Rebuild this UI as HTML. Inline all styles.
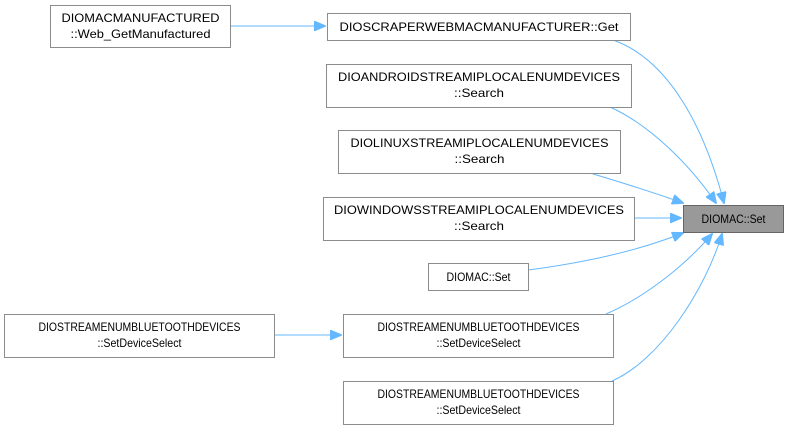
<!DOCTYPE html>
<html><head><meta charset="utf-8"><style>
html,body{margin:0;padding:0;background:#fff;}
svg{display:block;}
text{font-family:"Liberation Sans",Arial,sans-serif;font-size:12px;fill:#000;}
</style></head><body>
<svg width="789" height="429" viewBox="0 0 789 429" xmlns="http://www.w3.org/2000/svg">
<defs>
<marker id="a" markerWidth="12" markerHeight="10" refX="11" refY="5" orient="auto" markerUnits="userSpaceOnUse">
<path d="M0,0 L12,5 L0,10 z" fill="#63b8ff" stroke="#63b8ff"/>
</marker>
</defs>
<g fill="none" stroke="#63b8ff" stroke-width="1">
<path d="M230,26 L325,26" marker-end="url(#a)"/>
<path d="M274,335 L341,335" marker-end="url(#a)"/>
<path d="M613,40 C670,60 705,130 724,203" marker-end="url(#a)"/>
<path d="M610,107 C650,125 690,165 716,203" marker-end="url(#a)"/>
<path d="M590,173 C620,182 655,193 683,203" marker-end="url(#a)"/>
<path d="M634,218 L681,218" marker-end="url(#a)"/>
<path d="M528,270 C590,262 640,250 683,233" marker-end="url(#a)"/>
<path d="M606,314 C650,295 690,260 712,234" marker-end="url(#a)"/>
<path d="M612,381 C660,360 705,290 722,234" marker-end="url(#a)"/>
</g>
<g stroke="#8c8c8c" stroke-width="1" fill="#fff">
<rect x="50.5" y="5.5" width="180" height="42"/>
<rect x="327.5" y="13.5" width="303" height="27"/>
<rect x="326.5" y="64.5" width="305" height="43"/>
<rect x="338.5" y="130.5" width="282" height="43"/>
<rect x="323.5" y="197.5" width="311" height="43"/>
<rect x="428.5" y="263.5" width="100" height="27"/>
<rect x="4.5" y="314.5" width="270" height="43"/>
<rect x="343.5" y="314.5" width="270" height="43"/>
<rect x="343.5" y="381.5" width="270" height="43"/>
<rect x="683.5" y="205.5" width="100" height="27" fill="#999" stroke="#666"/>
</g>
<g text-anchor="middle">
<text x="140.5" y="22" textLength="158" lengthAdjust="spacingAndGlyphs">DIOMACMANUFACTURED</text>
<text x="140.5" y="38" textLength="140" lengthAdjust="spacingAndGlyphs">::Web_GetManufactured</text>
<text x="479" y="31" textLength="279" lengthAdjust="spacingAndGlyphs">DIOSCRAPERWEBMACMANUFACTURER::Get</text>
<text x="479" y="81" textLength="282" lengthAdjust="spacingAndGlyphs">DIOANDROIDSTREAMIPLOCALENUMDEVICES</text>
<text x="479" y="97" textLength="50" lengthAdjust="spacingAndGlyphs">::Search</text>
<text x="479.5" y="147" textLength="258" lengthAdjust="spacingAndGlyphs">DIOLINUXSTREAMIPLOCALENUMDEVICES</text>
<text x="479.5" y="163" textLength="50" lengthAdjust="spacingAndGlyphs">::Search</text>
<text x="479" y="214" textLength="290" lengthAdjust="spacingAndGlyphs">DIOWINDOWSSTREAMIPLOCALENUMDEVICES</text>
<text x="479" y="230" textLength="50" lengthAdjust="spacingAndGlyphs">::Search</text>
<text x="478.5" y="281" textLength="64" lengthAdjust="spacingAndGlyphs">DIOMAC::Set</text>
<text x="139.5" y="331" textLength="202" lengthAdjust="spacingAndGlyphs">DIOSTREAMENUMBLUETOOTHDEVICES</text>
<text x="139.5" y="347" textLength="84" lengthAdjust="spacingAndGlyphs">::SetDeviceSelect</text>
<text x="478.5" y="331" textLength="202" lengthAdjust="spacingAndGlyphs">DIOSTREAMENUMBLUETOOTHDEVICES</text>
<text x="478.5" y="347" textLength="84" lengthAdjust="spacingAndGlyphs">::SetDeviceSelect</text>
<text x="478.5" y="398" textLength="202" lengthAdjust="spacingAndGlyphs">DIOSTREAMENUMBLUETOOTHDEVICES</text>
<text x="478.5" y="414" textLength="84" lengthAdjust="spacingAndGlyphs">::SetDeviceSelect</text>
<text x="733.5" y="223" textLength="64" lengthAdjust="spacingAndGlyphs">DIOMAC::Set</text>
</g>
</svg>
</body></html>
